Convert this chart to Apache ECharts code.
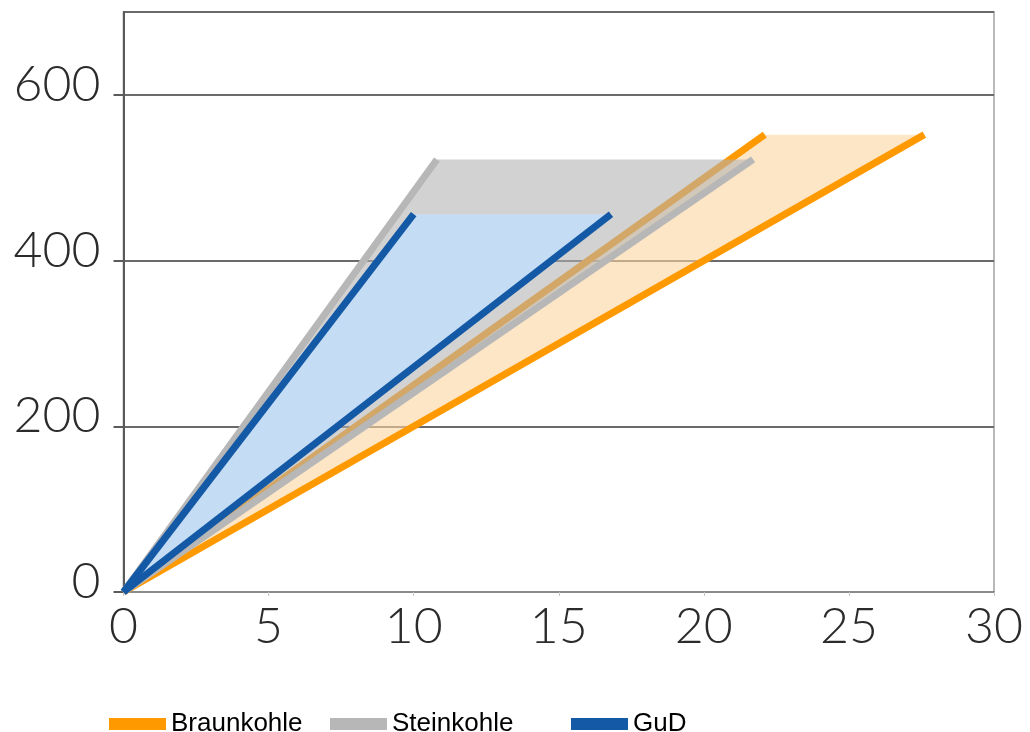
<!DOCTYPE html>
<html>
<head>
<meta charset="utf-8">
<script src="https://cdn.jsdelivr.net/npm/echarts@6/dist/echarts.min.js"></script>
<style>
  html, body { margin: 0; padding: 0; background: #fff; }
  #chart { width: 1030px; height: 732px; }
</style>
</head>
<body>
<div id="chart"></div>
<script>
// Technologies and their ranges: each band runs from the origin along a steep
// and a shallow ray up to a common top level.
const techNames = ['Braunkohle', 'Steinkohle', 'GuD'];
const steepEndX = [22.1, 10.8, 10.0];
const shallowEndX = [27.6, 21.7, 16.8];
const topLevel = [552, 522, 456];

const xTicks = [0, 5, 10, 15, 20, 25, 30];
const yTicks = [0, 200, 400, 600];

const lineColors = ['#ff9900', '#b7b7b7', '#1459a6'];
const fillColors = ['rgba(252,214,160,0.6)', 'rgba(178,178,178,0.58)', '#c5ddf4'];

const series = [];
techNames.forEach(function (name, i) {
  const steep = [steepEndX[i], topLevel[i]];
  const shallow = [shallowEndX[i], topLevel[i]];
  const band = [[0, 0], steep, shallow];
  // filled band between the two rays
  series.push({
    name: name,
    type: 'custom',
    coordinateSystem: 'cartesian2d',
    silent: true,
    z: 2 + i * 2,
    data: [0],
    renderItem: function (params, api) {
      return {
        type: 'polygon',
        shape: { points: band.map(function (p) { return api.coord(p); }) },
        style: { fill: fillColors[i] }
      };
    }
  });
  // the two bounding rays
  [steep, shallow].forEach(function (end) {
    series.push({
      name: name,
      type: 'line',
      z: 3 + i * 2,
      silent: true,
      symbol: 'none',
      data: [[0, 0], end],
      itemStyle: { color: lineColors[i] },
      lineStyle: { color: lineColors[i], width: 7, cap: 'butt' }
    });
  });
});

const legendLeft = [104, 325, 566];
const legends = techNames.map(function (name, i) {
  return {
    left: legendLeft[i],
    top: 706,
    icon: 'rect',
    itemWidth: 57,
    itemHeight: 12,
    itemGap: 10,
    selectedMode: false,
    data: [{
      name: name,
      itemStyle: { color: lineColors[i], borderWidth: 0 },
      lineStyle: { color: lineColors[i], width: 12, cap: 'butt' }
    }],
    textStyle: { fontFamily: 'Liberation Sans, Arial, sans-serif', fontSize: 26, color: '#000', lineHeight: 26 }
  };
});

const chart = echarts.init(document.getElementById('chart'), null, { renderer: 'canvas' });
chart.setOption({
  animation: false,
  backgroundColor: '#fff',
  grid: {
    left: 123.5, right: 36, top: 12, bottom: 140,
    show: true, borderColor: '#b9b9b9', borderWidth: 2, backgroundColor: 'transparent'
  },
  legend: legends,
  xAxis: {
    type: 'value',
    min: xTicks[0], max: xTicks[xTicks.length - 1], interval: 5,
    axisLine: { show: true, lineStyle: { color: '#8a8a8a', width: 2 } },
    axisTick: { show: true, length: 4, lineStyle: { color: '#c4c4c4', width: 1 } },
    splitLine: { show: false },
    axisLabel: {
      margin: 10,
      fontFamily: 'Lato, sans-serif', fontWeight: 300, fontSize: 50, color: '#2b2b2b',
      formatter: function (v) { return xTicks.indexOf(v) >= 0 ? String(v) : ''; }
    }
  },
  yAxis: {
    type: 'value',
    min: 0, max: 700, interval: 200,
    axisLine: { show: true, lineStyle: { color: '#5a5a5a', width: 2 } },
    axisTick: { show: true, length: 10, lineStyle: { color: '#5a5a5a', width: 2 } },
    splitLine: { show: true, lineStyle: { color: '#6a6a6a', width: 2 } },
    axisLabel: {
      margin: 23, showMaxLabel: false,
      fontFamily: 'Lato, sans-serif', fontWeight: 300, fontSize: 50, color: '#2b2b2b',
      verticalAlign: 'bottom', lineHeight: 20,
      formatter: function (v) { return yTicks.indexOf(v) >= 0 ? String(v) : ''; }
    }
  },
  series: series
});
</script>
</body>
</html>
